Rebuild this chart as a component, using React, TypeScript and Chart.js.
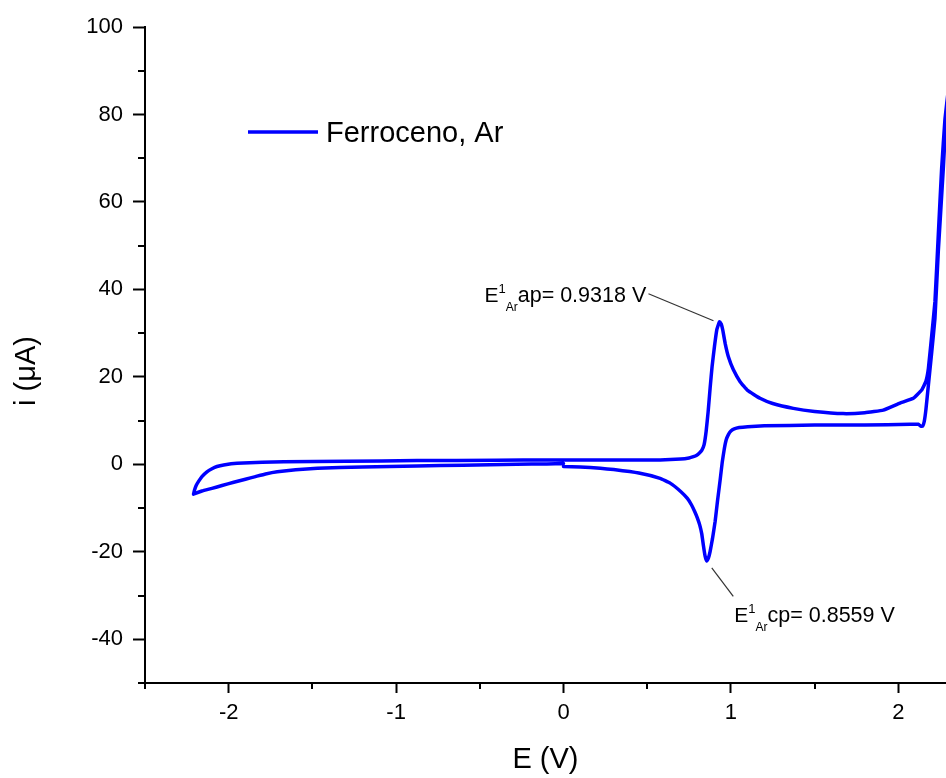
import { useEffect, useRef } from "react";
import { Chart, registerables } from "chart.js";

Chart.register(...registerables);

// Cyclic voltammogram of ferrocene under argon.
// Scan 1: 0 V down to the negative vertex.
const scan1E = [0, -0.1, -0.28, -0.6, -0.875, -1.2, -1.47, -1.6, -1.71, -1.78, -1.84, -1.9, -1.97, -2.04, -2.1, -2.16, -2.21];
const scan1I = [0.2, 0.1, 0.0, -0.2, -0.37, -0.6, -0.9, -1.25, -1.7, -2.2, -2.8, -3.4, -4.1, -4.85, -5.5, -6.1, -6.8];

// Scan 2: negative vertex up to the positive vertex (anodic peak).
const scan2E = [
  -2.21, -2.205, -2.195, -2.18, -2.16, -2.13, -2.1, -2.07, -2.03, -1.95, -1.8, -1.67, -1.3, -0.875, -0.4,
  -0.08, 0.3, 0.577, 0.7, 0.75, 0.776, 0.796, 0.812, 0.826, 0.84, 0.852, 0.864, 0.876, 0.888, 0.902, 0.916,
  0.9318, 0.942, 0.952, 0.966, 0.985, 1.015, 1.055, 1.1, 1.174, 1.25, 1.373, 1.5, 1.67, 1.8, 1.91, 2.01,
  2.09, 2.14, 2.165, 2.18, 2.2, 2.219, 2.239, 2.259, 2.279, 2.3,
];
const scan2I = [
  -6.8, -6.0, -4.9, -3.9, -2.8, -1.7, -1.0, -0.5, -0.15, 0.23, 0.45, 0.6, 0.72, 0.85, 0.93,
  1.0, 1.0, 1.0, 1.2, 1.45, 1.75, 2.1, 2.6, 3.2, 4.5, 7.5, 12.0, 17.5, 22.5, 27.0, 30.8,
  32.6, 32.1, 30.6, 27.6, 24.6, 21.6, 18.9, 16.9, 15.1, 13.9, 12.8, 12.1, 11.6, 11.8, 12.4, 14.0,
  15.1, 17.0, 19.0, 22.0, 29.6, 37.2, 52.5, 67.7, 79.0, 86.0,
];

// Scan 3: positive vertex back to 0 V (cathodic peak).
const scan3E = [
  2.3, 2.285, 2.269, 2.239, 2.219, 2.2, 2.18, 2.165, 2.155, 2.145, 2.135, 2.12, 2.07, 1.8, 1.5, 1.2, 1.1,
  1.05, 1.02, 1.0, 0.985, 0.972, 0.96, 0.948, 0.936, 0.92, 0.906, 0.89, 0.876, 0.866, 0.8559, 0.846, 0.836,
  0.826, 0.814, 0.8, 0.785, 0.765, 0.74, 0.7, 0.637, 0.577, 0.45, 0.3, 0.22, 0.1, 0.0,
];
const scan3I = [
  86.0, 79.0, 67.7, 48.7, 33.4, 25.8, 18.2, 12.5, 9.8, 8.7, 8.7, 9.15, 9.15, 9.0, 9.0, 8.8, 8.6,
  8.4, 8.1, 7.6, 6.8, 5.6, 3.4, 0.4, -3.5, -8.4, -13.0, -17.0, -19.9, -21.4, -22.1, -21.0, -18.6,
  -15.9, -13.9, -12.3, -10.9, -9.3, -7.8, -6.2, -4.3, -3.2, -2.0, -1.2, -0.9, -0.6, -0.5,
];

const seriesLabel = "Ferroceno, Ar";

// Peak annotations
const anodicPeakE = 0.9318;
const anodicPeakI = 32.6;
const cathodicPeakE = 0.8559;
const cathodicPeakI = -22.1;

// Axis ticks
const xMajorTicks = [-2, -1, 0, 1, 2];
const xMinorTicks = [-2.5, -1.5, -0.5, 0.5, 1.5];
const yMajorTicks = [-40, -20, 0, 20, 40, 60, 80, 100];
const yMinorTicks = [-50, -30, -10, 10, 30, 50, 70, 90];

const FONT = "'Liberation Sans', Arial, Helvetica, sans-serif";
const BLUE = "#0000ff";

function drawPeakLabel(
  ctx: CanvasRenderingContext2D,
  x: number,
  y: number,
  kind: string,
  value: number
) {
  ctx.fillStyle = "#000";
  ctx.textAlign = "left";
  ctx.textBaseline = "alphabetic";
  let cx = x;
  ctx.font = `21px ${FONT}`;
  ctx.fillText("E", cx, y);
  cx += ctx.measureText("E").width;
  ctx.font = `13px ${FONT}`;
  ctx.fillText("1", cx, y - 9);
  cx += ctx.measureText("1").width;
  ctx.font = `12px ${FONT}`;
  ctx.fillText("Ar", cx, y + 9);
  cx += ctx.measureText("Ar").width;
  ctx.font = `21.5px ${FONT}`;
  ctx.fillText(`${kind}= ${value.toFixed(4)} V`, cx, y);
}

const decorPlugin = {
  id: "cvDecor",
  afterDraw(chart: Chart) {
    const ctx = chart.ctx;
    const xs = chart.scales.x;
    const ys = chart.scales.y;
    const area = chart.chartArea;
    ctx.save();

    // minor ticks
    ctx.strokeStyle = "#000";
    ctx.lineWidth = 2;
    ctx.beginPath();
    for (const v of xMinorTicks) {
      const px = Math.round(xs.getPixelForValue(v));
      ctx.moveTo(px, area.bottom);
      ctx.lineTo(px, area.bottom + 6);
    }
    for (const v of yMinorTicks) {
      const py = Math.round(ys.getPixelForValue(v));
      ctx.moveTo(area.left - 7, py);
      ctx.lineTo(area.left, py);
    }
    ctx.stroke();

    // y axis title
    ctx.save();
    ctx.translate(35, 371);
    ctx.rotate(-Math.PI / 2);
    ctx.font = `29px ${FONT}`;
    ctx.fillStyle = "#000";
    ctx.textAlign = "center";
    ctx.textBaseline = "alphabetic";
    ctx.fillText("i (\u03bcA)", 0, 0);
    ctx.restore();

    // legend
    ctx.strokeStyle = BLUE;
    ctx.lineWidth = 3.5;
    ctx.beginPath();
    ctx.moveTo(248, 132);
    ctx.lineTo(318, 132);
    ctx.stroke();
    ctx.font = `29px ${FONT}`;
    ctx.fillStyle = "#000";
    ctx.textAlign = "left";
    ctx.textBaseline = "alphabetic";
    ctx.fillText(seriesLabel, 326, 142);

    // anodic peak annotation
    const ax = xs.getPixelForValue(anodicPeakE);
    const ay = ys.getPixelForValue(anodicPeakI);
    ctx.strokeStyle = "#333";
    ctx.lineWidth = 1.2;
    ctx.beginPath();
    ctx.moveTo(ax - 71, ay - 28);
    ctx.lineTo(ax - 6, ay - 1);
    ctx.stroke();
    drawPeakLabel(ctx, ax - 235, ay - 20, "ap", anodicPeakE);

    // cathodic peak annotation
    const cx = xs.getPixelForValue(cathodicPeakE);
    const cy = ys.getPixelForValue(cathodicPeakI);
    ctx.beginPath();
    ctx.moveTo(cx + 5, cy + 7);
    ctx.lineTo(cx + 26.5, cy + 35.5);
    ctx.stroke();
    drawPeakLabel(ctx, cx + 27.5, cy + 61, "cp", cathodicPeakE);

    ctx.restore();
  },
};

export default function App() {
  const ref = useRef<HTMLCanvasElement>(null);

  useEffect(() => {
    const canvas = ref.current;
    if (!canvas) return;
    const points: { x: number; y: number }[] = [];
    scan1E.forEach((e, k) => points.push({ x: e, y: scan1I[k] }));
    scan2E.forEach((e, k) => points.push({ x: e, y: scan2I[k] }));
    scan3E.forEach((e, k) => points.push({ x: e, y: scan3I[k] }));

    const axisCommon = {
      type: "linear" as const,
      border: { display: true, color: "#000", width: 2 },
    };

    const chart = new Chart(canvas, {
      type: "scatter",
      data: {
        datasets: [
          {
            label: seriesLabel,
            data: points,
            showLine: true,
            borderColor: BLUE,
            backgroundColor: BLUE,
            borderWidth: 3.5,
            borderJoinStyle: "round",
            borderCapStyle: "round",
            pointRadius: 0,
            pointHoverRadius: 0,
            tension: 0.1,
            fill: false,
          },
        ],
      },
      options: {
        responsive: false,
        animation: false,
        devicePixelRatio: 1,
        layout: { padding: { top: 27, right: 0, left: 0, bottom: 0 } },
        plugins: {
          legend: { display: false },
          tooltip: { enabled: false },
        },
        scales: {
          x: {
            ...axisCommon,
            min: -2.5,
            max: 2.285,
            afterBuildTicks: (s: any) => {
              s.ticks = xMajorTicks.map((v) => ({ value: v }));
            },
            afterFit: (s: any) => {
              s.height = 95;
            },
            grid: {
              display: true,
              drawOnChartArea: false,
              drawTicks: true,
              tickLength: 10,
              tickWidth: 2,
              tickColor: "#000",
            },
            ticks: {
              color: "#000",
              font: { family: FONT, size: 22 },
              padding: 7,
              maxRotation: 0,
              autoSkip: false,
              callback: (v: any) => String(v),
            },
            title: {
              display: true,
              text: "E (V)",
              color: "#000",
              font: { family: FONT, size: 29 },
              padding: { top: 0, bottom: 1 },
            },
          },
          y: {
            ...axisCommon,
            min: -50,
            max: 100,
            afterBuildTicks: (s: any) => {
              s.ticks = yMajorTicks.map((v) => ({ value: v }));
            },
            afterFit: (s: any) => {
              s.width = 145;
            },
            grid: {
              display: true,
              drawOnChartArea: false,
              drawTicks: true,
              tickLength: 12,
              tickWidth: 2,
              tickColor: "#000",
            },
            ticks: {
              color: "#000",
              font: { family: FONT, size: 22 },
              padding: 10,
              autoSkip: false,
              callback: (v: any) => String(v),
            },
          },
        },
      },
      plugins: [decorPlugin],
    });

    return () => chart.destroy();
  }, []);

  return (
    <div style={{ position: "absolute", left: 0, top: 0, width: 946, height: 778, background: "#fff" }}>
      <canvas ref={ref} width={946} height={778} style={{ display: "block" }} />
    </div>
  );
}
